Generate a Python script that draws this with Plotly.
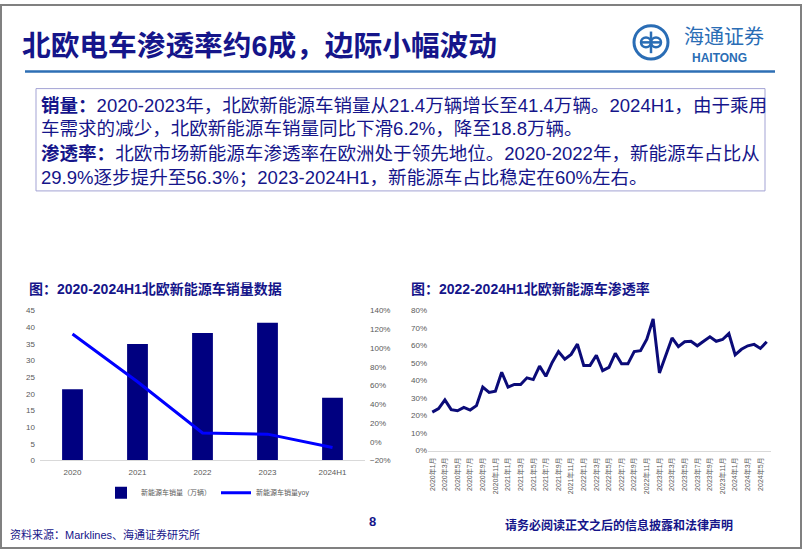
import plotly.graph_objects as go

W, H = 802, 554

# ---------------- data ----------------
years = ["2020", "2021", "2022", "2023", "2024H1"]
sales = [21.4, 35.0, 38.3, 41.4, 18.8]          # 万辆
sales_yoy = [115.0, 64.0, 9.4, 8.1, -6.2]       # %

months = [f"{y}年{m}月" for y in range(2020, 2025) for m in range(1, 13)][:54]
penetration = [22, 24, 29, 23.4, 22.8, 24.7, 23.2, 25.7, 36.3, 33.3,
               34, 44.8, 36.3, 37.8, 37.8, 41.6, 40.6, 48.3, 42.5, 50.4,
               56.6, 52.2, 55, 60.9, 48.7, 48.7, 54.5, 45.7, 47.6, 55.6,
               49.6, 49.6, 56.6, 57.1, 63.7, 75.3, 44.4, 54.7, 64.4, 59.4,
               62.2, 62.5, 59.9, 62.5, 65, 62.5, 63.5, 66.9, 54.7, 57.9,
               59.9, 60.7, 58.4, 62.2]
month_ticks = months[::2]

FONT = "Liberation Sans, Arial, Noto Sans CJK SC, sans-serif"
NAVY = "#15158a"
GREY = "#595959"


def px(x):
    return x / W


def py(y):
    return 1 - y / H


fig = go.Figure()

fig.add_trace(go.Bar(x=years, y=sales, name="新能源车销量（万辆）",
                     marker=dict(color="#000080", line=dict(width=0)),
                     width=0.32, xaxis="x", yaxis="y"))
fig.add_trace(go.Scatter(x=years, y=sales_yoy, name="新能源车销量yoy",
                         mode="lines", line=dict(color="#0000ff", width=3),
                         xaxis="x", yaxis="y2"))
fig.add_trace(go.Scatter(x=months, y=penetration, mode="lines",
                         line=dict(color="#0b0b78", width=3),
                         xaxis="x3", yaxis="y3", showlegend=False))

axfont = dict(family=FONT, size=8, color=GREY)

fig.update_layout(
    width=W, height=H, margin=dict(l=0, r=0, t=0, b=0),
    paper_bgcolor="white", plot_bgcolor="white",
    font=dict(family=FONT),
    xaxis=dict(domain=[px(40), px(365)], anchor="y", type="category",
               showline=True, linecolor="#d9d9d9", linewidth=1, ticks="",
               showgrid=False, zeroline=False, tickfont=axfont,
               ticklabelstandoff=4),
    yaxis=dict(domain=[py(464), py(311.7)], anchor="x", range=[0, 45], dtick=5,
               showgrid=False, zeroline=False, showline=False, ticks="",
               tickfont=axfont, ticklabelstandoff=4),
    yaxis2=dict(overlaying="y", side="right", anchor="x", range=[-20, 140],
                dtick=20, ticksuffix="%", showgrid=False, zeroline=False,
                showline=False, ticks="", tickfont=axfont,
                ticklabelstandoff=4),
    xaxis3=dict(domain=[px(428), px(771)], anchor="y3", type="category",
                range=[-0.68, 53.68], tickvals=month_ticks, tickangle=-90,
                showline=True, linecolor="#d9d9d9", linewidth=1, ticks="",
                showgrid=False, zeroline=False, ticklabelstandoff=3,
                tickfont=dict(family=FONT, size=7, color=GREY)),
    yaxis3=dict(domain=[py(454), py(311.7)], anchor="x3", range=[0, 80],
                dtick=10, ticksuffix="%", showgrid=False, zeroline=False,
                showline=False, ticks="", tickfont=axfont),
    showlegend=True,
    legend=dict(orientation="h", x=px(101), y=py(482), xanchor="left",
                yanchor="top", font=dict(family=FONT, size=7, color=GREY),
                bgcolor="rgba(0,0,0,0)", itemwidth=30, tracegroupgap=0),
    bargap=0.68,
)

shapes = [
    # slide frame
    dict(type="rect", xref="paper", yref="paper", x0=px(1), x1=px(801),
         y0=py(553), y1=py(1), line=dict(color="#808080", width=2)),
    # title underline
    dict(type="line", xref="paper", yref="paper", x0=px(25), x1=px(775),
         y0=py(68.5), y1=py(68.5), line=dict(color="#2e6fb5", width=2.5)),
    # text box
    dict(type="rect", xref="paper", yref="paper", x0=px(36), x1=px(765),
         y0=py(190), y1=py(86), line=dict(color="#a3a3d4", width=1)),
    # logo ring
    dict(type="circle", xref="paper", yref="paper", x0=px(634), x1=px(668),
         y0=py(56), y1=py(22), line=dict(color="#2a6db5", width=3)),
    dict(type="circle", xref="paper", yref="paper", x0=px(641), x1=px(651),
         y0=py(44), y1=py(34), line=dict(color="#2a6db5", width=2.5)),
    dict(type="circle", xref="paper", yref="paper", x0=px(651), x1=px(661),
         y0=py(44), y1=py(34), line=dict(color="#2a6db5", width=2.5)),
    dict(type="line", xref="paper", yref="paper", x0=px(651), x1=px(651),
         y0=py(50), y1=py(28), line=dict(color="#2a6db5", width=2.5)),
    dict(type="line", xref="paper", yref="paper", x0=px(640), x1=px(662),
         y0=py(39), y1=py(39), line=dict(color="#2a6db5", width=2.5)),
]

annotations = []


def note(text, x, y, size, color=NAVY, family=FONT, xanchor="left"):
    annotations.append(dict(text=text, x=px(x), y=py(y), xref="paper",
                            yref="paper", showarrow=False, xanchor=xanchor,
                            yanchor="middle",
                            font=dict(family=family, size=size, color=color)))


note("<b>北欧电车渗透率约6成，边际小幅波动</b>", 20, 43, 28.7)
note("海通证券", 682, 34, 20, color="#2a6db5")
note("<b>HAITONG</b>", 690, 55, 12, color="#2a6db5")

TS = 18.55
note("<b>销量：</b>2020-2023年，北欧新能源车销量从21.4万辆增长至41.4万辆。2024H1，由于乘用", 39, 103, TS)
note("车需求的减少，北欧新能源车销量同比下滑6.2%，降至18.8万辆。", 39, 127, TS)
note("<b>渗透率：</b>北欧市场新能源车渗透率在欧洲处于领先地位。2020-2022年，新能源车占比从", 39, 152, TS)
note("29.9%逐步提升至56.3%；2023-2024H1，新能源车占比稳定在60%左右。", 39, 176, TS)

note("<b>图：2020-2024H1北欧新能源车销量数据</b>", 27, 290, 14)
note("<b>图：2022-2024H1北欧新能源车渗透率</b>", 409, 290, 14)

note("资料来源：Marklines、海通证券研究所", 8, 539, 11)
note("<b>8</b>", 372, 526, 13, xanchor="center")
note("<b>请务必阅读正文之后的信息披露和法律声明</b>", 503, 530, 12)

fig.update_layout(shapes=shapes, annotations=annotations)

fig.write_html("out.html")
